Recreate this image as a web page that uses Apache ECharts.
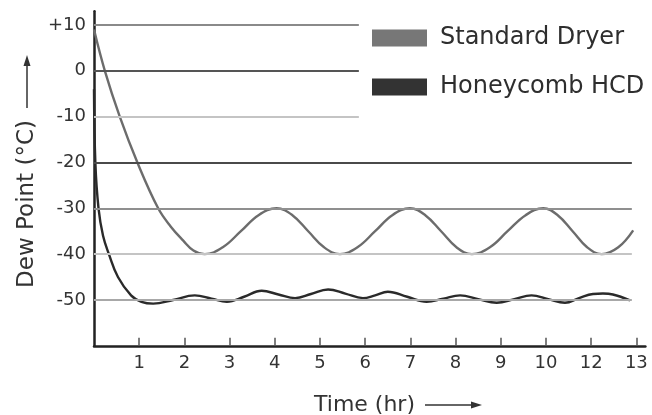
<!DOCTYPE html>
<html>
<head>
<meta charset="utf-8">
<script src="https://cdn.jsdelivr.net/npm/echarts@6/dist/echarts.min.js"></script>
<style>
html,body{margin:0;padding:0;background:#fff;}
#c{width:652px;height:415px;}
</style>
</head>
<body>
<div id="c"></div>
<script>
// ---- data ----
var seriesNames = ['Standard Dryer', 'Honeycomb HCD'];
var xTickValues = [1, 2, 3, 4, 5, 6, 7, 8, 9, 10, 11, 12];
var xTickLabels = ['1', '2', '3', '4', '5', '6', '7', '8', '9', '10', '12', '13'];
var yTickValues = [-50, -40, -30, -20, -10, 0, 10];
var yTickLabels = ['-50', '-40', '-30', '-20', '-10', '0', '+10'];

var standardTime = [0, 0.24, 0.57, 0.96, 1.42, 1.7, 1.97, 2.2, 2.45, 2.85, 3.25, 3.64, 4.04, 4.39, 4.74, 5.09, 5.44, 5.83, 6.22, 6.6, 6.99, 7.33, 7.68, 8.02, 8.36, 8.76, 9.15, 9.55, 9.94, 10.26, 10.59, 10.91, 11.23, 11.6, 11.93];
var standardDew = [9, 0, -10, -20, -30, -34, -37, -39.2, -40, -38.5, -35, -31.5, -30, -31.5, -35, -38.5, -40, -38.5, -35, -31.5, -30, -31.5, -35, -38.5, -40, -38.5, -35, -31.5, -30, -31.5, -35, -38.5, -40, -38.5, -34.8];

var hcdTime = [0, 0.03, 0.1, 0.2, 0.33, 0.53, 0.82, 1.05, 1.31, 1.75, 2.23, 2.6, 2.94, 3.32, 3.71, 4.08, 4.45, 4.8, 5.18, 5.56, 5.95, 6.22, 6.5, 6.93, 7.36, 7.73, 8.1, 8.5, 8.91, 9.3, 9.68, 10.05, 10.42, 10.73, 11.04, 11.26, 11.48, 11.86];
var hcdDew = [-4, -20, -30, -36, -40, -45, -49, -50.4, -50.8, -50.0, -49.0, -49.7, -50.4, -49.3, -48.0, -48.8, -49.6, -48.7, -47.7, -48.6, -49.6, -49.0, -48.2, -49.3, -50.4, -49.7, -49.0, -49.8, -50.6, -49.8, -49.0, -49.8, -50.6, -49.6, -48.7, -48.6, -48.8, -50.1];

// reference lines (dew point levels) and where each one ends on the time axis
var refLevels = [10, 0, -10, -20, -30, -40, -50];
var refEnds = [5.86, 5.86, 5.86, 11.9, 11.9, 11.9, 11.9];
var refColors = ['#8a8a8a', '#555555', '#c4c4c4', '#4a4a4a', '#8f8f8f', '#c4c4c4', '#a8a8a8'];

function zip(a, b) { return a.map(function (v, i) { return [v, b[i]]; }); }

var refLines = refLevels.map(function (lv, i) {
  return [
    { coord: [0, lv], lineStyle: { color: refColors[i], width: 2, type: 'solid' } },
    { coord: [refEnds[i], lv] }
  ];
});

var FONT = 'DejaVu Sans';
var chart = echarts.init(document.getElementById('c'), null, { renderer: 'canvas' });
chart.setOption({
  animation: false,
  backgroundColor: '#ffffff',
  grid: { left: 94, right: 6.6, top: 11.25, bottom: 69.2, outerBoundsMode: 'none' },
  legend: [
    {
      data: [{ name: seriesNames[0], itemStyle: { color: '#777777' } }],
      left: 372, top: 26, padding: 0, icon: 'rect', itemWidth: 55, itemHeight: 17,
      selectedMode: false,
      textStyle: { fontFamily: FONT, fontSize: 24, color: '#2e2e2e', padding: [0, 0, 0, 8] }
    },
    {
      data: [{ name: seriesNames[1], itemStyle: { color: '#333333' } }],
      left: 372, top: 75, padding: 0, icon: 'rect', itemWidth: 55, itemHeight: 17,
      selectedMode: false,
      textStyle: { fontFamily: FONT, fontSize: 24, color: '#2e2e2e', padding: [0, 0, 0, 8] }
    }
  ],
  xAxis: {
    type: 'value', min: 0, max: 12.2, interval: 1,
    axisLine: { show: true, onZero: false, lineStyle: { color: '#222', width: 2.5 } },
    axisTick: { show: true, inside: true, length: 8, customValues: xTickValues, lineStyle: { color: '#555', width: 1.5 } },
    axisLabel: {
      margin: 9, fontFamily: FONT, fontSize: 18, color: '#333',
      customValues: xTickValues,
      formatter: function (v) {
        var i = xTickValues.indexOf(Math.round(v));
        return i >= 0 ? xTickLabels[i] : '';
      }
    },
    splitLine: { show: false }
  },
  yAxis: {
    type: 'value', min: -60, max: 13, interval: 10,
    axisLine: { show: true, onZero: false, lineStyle: { color: '#222', width: 2.5 } },
    axisTick: { show: false },
    axisLabel: {
      margin: 8, fontFamily: FONT, fontSize: 18, color: '#333',
      customValues: yTickValues,
      formatter: function (v) {
        var i = yTickValues.indexOf(Math.round(v));
        return i >= 0 ? yTickLabels[i] : '';
      }
    },
    splitLine: { show: false }
  },
  graphic: [
    { type: 'text', x: 27, y: 204, rotation: Math.PI / 2,
      style: { text: 'Dew Point (°C)', font: '23px "DejaVu Sans"', fill: '#333', align: 'center', verticalAlign: 'middle' } },
    { type: 'line', shape: { x1: 27, y1: 108, x2: 27, y2: 64 }, style: { stroke: '#333', lineWidth: 1.5 } },
    { type: 'polygon', shape: { points: [[27, 55], [23.5, 66], [30.5, 66]] }, style: { fill: '#333' } },
    { type: 'text', x: 415, y: 405,
      style: { text: 'Time (hr)', font: '22px "DejaVu Sans"', fill: '#333', align: 'right', verticalAlign: 'middle' } },
    { type: 'line', shape: { x1: 425, y1: 405, x2: 472, y2: 405 }, style: { stroke: '#333', lineWidth: 1.5 } },
    { type: 'polygon', shape: { points: [[482, 405], [471, 401.5], [471, 408.5]] }, style: { fill: '#333' } }
  ],
  series: [
    {
      name: 'refs', type: 'line', data: [], z: 1, silent: true,
      markLine: { silent: true, symbol: ['none', 'none'], label: { show: false }, animation: false, data: refLines }
    },
    {
      name: seriesNames[0], type: 'line', z: 3, data: zip(standardTime, standardDew),
      smooth: 0.4, showSymbol: false, symbol: 'none',
      color: '#6c6c6c', lineStyle: { color: '#6c6c6c', width: 2.4 }
    },
    {
      name: seriesNames[1], type: 'line', z: 4, data: zip(hcdTime, hcdDew),
      smooth: 0.4, showSymbol: false, symbol: 'none',
      color: '#2a2a2a', lineStyle: { color: '#2a2a2a', width: 2.4 }
    }
  ]
});
</script>
</body>
</html>
